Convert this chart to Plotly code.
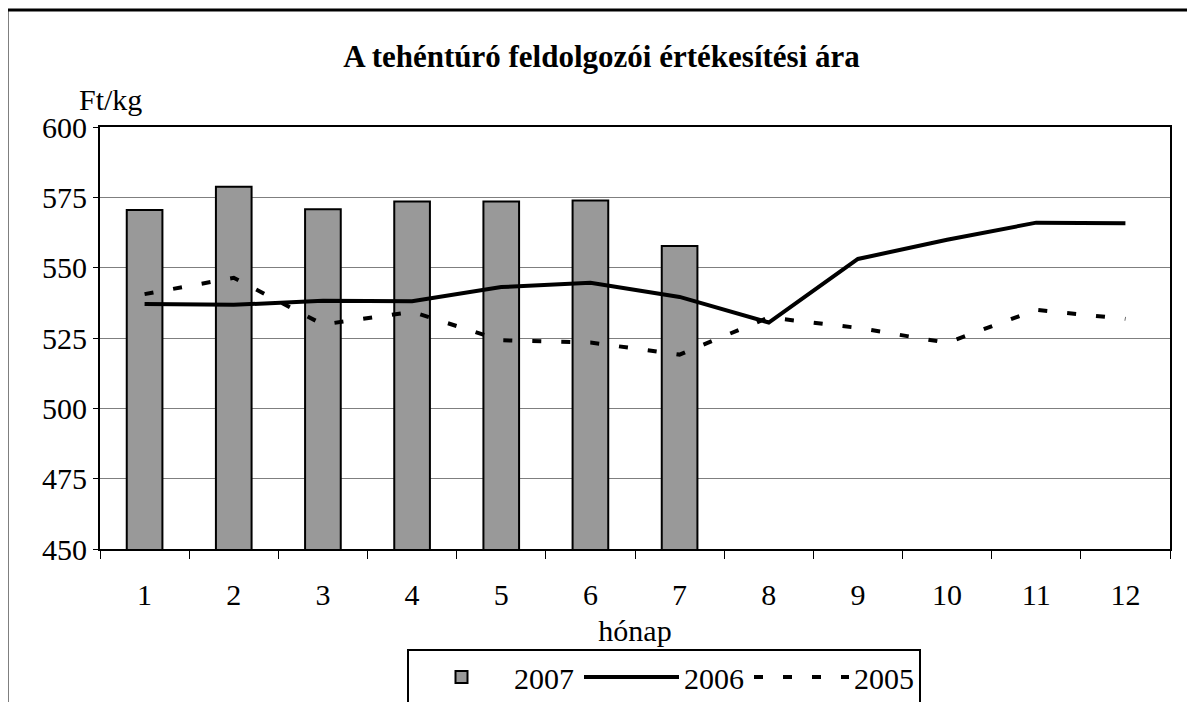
import plotly.graph_objects as go

MONTHS = [str(m) for m in range(1, 13)]
BAR_MONTHS = MONTHS[:7]
Y2007 = [570.5, 578.8, 570.8, 573.5, 573.5, 573.9, 557.7]
Y2006 = [537.1, 536.8, 538.2, 538.1, 543.1, 544.6, 539.6, 530.5, 553.1, 559.9, 566.0, 565.8]
Y2005 = [540.6, 546.4, 529.8, 534.3, 524.2, 523.4, 519.1, 532.3, 528.6, 523.3, 535.0, 531.8]

FONT = "Liberation Serif, Times New Roman, serif"
OFF = 8  # body margin of the html page
W, H = 1195 - OFF, 702 - OFF
PL, PR, PT, PB = 100, 1170, 127, 549  # plot area in page pixels
L, R, T, B = PL - OFF, 1195 - PR, PT - OFF, 702 - PB
PW, PH = PR - PL, PB - PT


def px(x):
    return (x - PL) / PW


def py(y):
    return (PB - y) / PH


fig = go.Figure()
fig.add_trace(go.Bar(x=BAR_MONTHS, y=Y2007, name="2007",
                     marker=dict(color="#999999", line=dict(color="black", width=2))))
fig.add_trace(go.Scatter(x=MONTHS, y=Y2006, name="2006", mode="lines",
                         line=dict(color="black", width=4)))
fig.add_trace(go.Scatter(x=MONTHS, y=Y2005, name="2005", mode="lines",
                         line=dict(color="black", width=4, dash="9px,20px")))

fig.update_layout(
    width=W, height=H, plot_bgcolor="white", paper_bgcolor="white",
    margin=dict(l=L, r=R, t=T, b=B),
    font=dict(family=FONT, size=30, color="black"),
    bargap=0.6, showlegend=True,
    title=dict(text="<b>A tehéntúró feldolgozói értékesítési ára</b>",
               x=0.5, xanchor="center", y=1 - (56 - OFF) / H, yanchor="middle",
               font=dict(size=31)),
    legend=dict(orientation="h", x=px(407), xanchor="left",
                yref="container", y=1 - (649 - OFF) / H, yanchor="top",
                bordercolor="black", borderwidth=2, traceorder="normal",
                font=dict(size=30), itemwidth=95, tracegroupgap=0),
    xaxis=dict(type="category", categoryorder="array", categoryarray=MONTHS,
               range=[-0.5, 11.5], tickson="boundaries", ticks="outside", ticklen=8,
               tickcolor="black", showline=True, linecolor="black", linewidth=2,
               mirror=True, showgrid=False, ticklabelstandoff=18, automargin=False,
               title=dict(text="hónap", standoff=10, font=dict(size=30))),
    yaxis=dict(range=[450, 600], dtick=25, ticks="outside", ticklen=5,
               tickcolor="black", showline=True, linecolor="black", linewidth=2,
               mirror=True, showgrid=True, gridcolor="#7f7f7f", gridwidth=1,
               zeroline=False, automargin=False),
)

fig.add_annotation(text="Ft/kg", xref="paper", yref="paper", x=px(77), y=py(99),
                   xanchor="left", yanchor="middle", showarrow=False,
                   font=dict(size=30))
fig.add_shape(type="rect", xref="paper", yref="paper", x0=px(7), x1=px(1189),
              y0=py(720), y1=py(10), line=dict(color="black", width=3),
              fillcolor="rgba(0,0,0,0)", layer="above")

fig.write_html("out.html")
